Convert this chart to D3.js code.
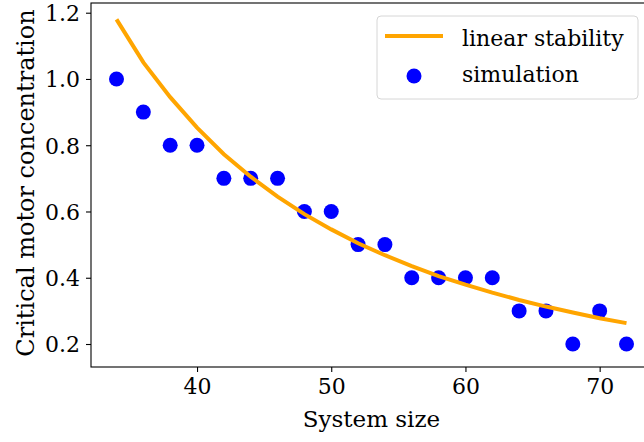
<!DOCTYPE html>
<html>
<head>
<meta charset="utf-8">
<script src="https://cdn.jsdelivr.net/npm/d3@7"></script>
<style>
  body { margin: 0; background: #fff; }
  svg text { font-family: "DejaVu Serif", serif; fill: #000; }
</style>
</head>
<body>
<div class="chart-wrapper"></div>
<script>
// system sizes and values
var sizes = [34, 36, 38, 40, 42, 44, 46, 48, 50, 52, 54, 56, 58, 60, 62, 64, 66, 68, 70, 72];
var simulation = [1.0, 0.9, 0.8, 0.8, 0.7, 0.7, 0.7, 0.6, 0.6, 0.5, 0.5, 0.4, 0.4, 0.4, 0.4, 0.3, 0.3, 0.2, 0.3, 0.2];
var linearStability = [1.18, 1.05, 0.945, 0.853, 0.773, 0.705, 0.645, 0.592, 0.546, 0.504, 0.468, 0.435, 0.405, 0.379, 0.355, 0.333, 0.313, 0.295, 0.278, 0.263];
var xTicks = [40, 50, 60, 70];
var yTicks = [0.2, 0.4, 0.6, 0.8, 1.0, 1.2];
var legendLabels = ["linear stability", "simulation"];

function drawChart(container) {
    var W = 644, H = 442;
    var plot = {left: 91, right: 652, top: 3, bottom: 367};

    var svg = d3.select(container).append("svg")
            .attr("width", W)
            .attr("height", H);

    var x = d3.scaleLinear()
            .domain([32.1, 73.9])
            .range([plot.left, plot.right]);
    var y = d3.scaleLinear()
            .domain([0.1306, 1.2293])
            .range([plot.bottom, plot.top]);

    // axes
    var xAxis = d3.axisBottom(x).tickValues(xTicks).tickSize(5).tickPadding(8)
            .tickFormat(d3.format("d"));
    var yAxis = d3.axisLeft(y).tickValues(yTicks).tickSize(5).tickPadding(6)
            .tickFormat(d3.format(".1f"));

    var gx = svg.append("g")
            .attr("transform", "translate(0," + plot.bottom + ")")
            .call(xAxis);
    var gy = svg.append("g")
            .attr("transform", "translate(" + plot.left + ",0)")
            .call(yAxis);
    [gx, gy].forEach(function (g) {
        g.select(".domain").remove();
        g.selectAll(".tick line").attr("stroke", "#000").attr("stroke-width", 1.1);
        g.selectAll(".tick text").attr("font-size", 22).attr("font-family", "DejaVu Serif");
    });
    gx.selectAll(".tick text").attr("dy", "0.62em");
    gy.selectAll(".tick text").attr("dy", "0.36em");

    // frame
    svg.append("rect")
            .attr("x", plot.left)
            .attr("y", plot.top)
            .attr("width", plot.right - plot.left)
            .attr("height", plot.bottom - plot.top)
            .attr("fill", "none")
            .attr("stroke", "#000")
            .attr("stroke-width", 1.1);

    // simulation points
    svg.append("g").selectAll("circle")
            .data(sizes)
            .enter().append("circle")
            .attr("cx", function (d) { return x(d); })
            .attr("cy", function (d, i) { return y(simulation[i]); })
            .attr("r", 7.5)
            .attr("fill", "#0000ff");

    // linear stability curve
    var line = d3.line()
            .x(function (d) { return x(d); })
            .y(function (d, i) { return y(linearStability[i]); });
    svg.append("path")
            .datum(sizes)
            .attr("d", line)
            .attr("fill", "none")
            .attr("stroke", "#ffa500")
            .attr("stroke-width", 4);

    // axis labels
    svg.append("text")
            .attr("x", (plot.left + plot.right) / 2)
            .attr("y", 427)
            .attr("text-anchor", "middle")
            .attr("font-size", 23)
            .text("System size");
    svg.append("text")
            .attr("transform", "translate(34," + 183 + ") rotate(-90)")
            .attr("text-anchor", "middle")
            .attr("font-size", 24)
            .text("Critical motor concentration");

    // legend
    var lg = svg.append("g");
    lg.append("rect")
            .attr("x", 377)
            .attr("y", 16)
            .attr("width", 261)
            .attr("height", 83)
            .attr("rx", 4)
            .attr("fill", "#fff")
            .attr("fill-opacity", 0.8)
            .attr("stroke", "#d6d6d6")
            .attr("stroke-width", 1);
    lg.append("line")
            .attr("x1", 385).attr("x2", 443)
            .attr("y1", 36).attr("y2", 36)
            .attr("stroke", "#ffa500")
            .attr("stroke-width", 4);
    lg.append("circle")
            .attr("cx", 414).attr("cy", 76)
            .attr("r", 7.5)
            .attr("fill", "#0000ff");
    lg.selectAll("text.lbl")
            .data(legendLabels)
            .enter().append("text")
            .attr("class", "lbl")
            .attr("x", 462)
            .attr("y", function (d, i) { return 46 + i * 36; })
            .attr("font-size", 22)
            .text(function (d) { return d; });
}

drawChart(".chart-wrapper");
</script>
</body>
</html>
